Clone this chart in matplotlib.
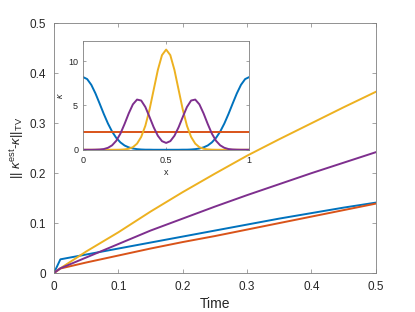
import numpy as np
import matplotlib
matplotlib.use("Agg")
import matplotlib.pyplot as plt

# main plot: error vs time
time = [0, 0.01, 0.05, 0.1, 0.15, 0.2, 0.25, 0.3, 0.35, 0.4, 0.45, 0.5]
err_blue = [0, 0.0274, 0.037, 0.049, 0.061, 0.073, 0.085, 0.097, 0.109, 0.120, 0.131, 0.141]
err_orange = [0, 0.009, 0.021, 0.035, 0.049, 0.062, 0.074, 0.087, 0.100, 0.113, 0.126, 0.139]
err_yellow = [0, 0.0094, 0.043, 0.0815, 0.123, 0.162, 0.199, 0.235, 0.268, 0.300, 0.332, 0.363]
err_purple = [0, 0.0094, 0.031, 0.058, 0.085, 0.109, 0.133, 0.156, 0.178, 0.200, 0.221, 0.242]
main_ticks = [0, 0.1, 0.2, 0.3, 0.4, 0.5]
main_ticklabels = ["0", "0.1", "0.2", "0.3", "0.4", "0.5"]

# inset: kappa(x)
x = [0, 0.025, 0.05, 0.075, 0.1, 0.125, 0.15, 0.175, 0.2, 0.225, 0.25, 0.275, 0.3,
     0.325, 0.35, 0.375, 0.4, 0.425, 0.45, 0.475, 0.5, 0.525, 0.55, 0.575, 0.6,
     0.625, 0.65, 0.675, 0.7, 0.725, 0.75, 0.775, 0.8, 0.825, 0.85, 0.875, 0.9,
     0.925, 0.95, 0.975, 1.0]
kappa_blue = [8.20, 7.97, 7.32, 6.35, 5.21, 4.04, 2.96, 2.05, 1.34, 0.83, 0.48, 0.27, 0.14,
              0.07, 0.03, 0.01, 0.01, 0, 0, 0, 0, 0, 0, 0, 0.01,
              0.01, 0.03, 0.07, 0.14, 0.27, 0.48, 0.83, 1.34, 2.05, 2.96, 4.04, 5.21,
              6.35, 7.32, 7.97, 8.20]
kappa_yellow = [0, 0, 0, 0, 0, 0, 0, 0, 0, 0.01, 0.04, 0.11, 0.29,
                0.69, 1.45, 2.71, 4.53, 6.76, 8.99, 10.67, 11.30, 10.67, 8.99, 6.76, 4.53,
                2.71, 1.45, 0.69, 0.29, 0.11, 0.04, 0.01, 0, 0, 0, 0, 0,
                0, 0, 0, 0]
kappa_purple = [0, 0, 0, 0.01, 0.03, 0.08, 0.22, 0.50, 1.01, 1.82, 2.91, 4.10, 5.12,
                5.66, 5.55, 4.82, 3.70, 2.54, 1.58, 0.97, 0.77, 0.97, 1.58, 2.54, 3.70,
                4.82, 5.55, 5.66, 5.12, 4.10, 2.91, 1.82, 1.01, 0.50, 0.22, 0.08, 0.03,
                0.01, 0, 0, 0]
x_flat = [0, 1]
kappa_orange = [2.0, 2.0]

c_blue = "#0072BD"
c_orange = "#D95319"
c_yellow = "#EDB120"
c_purple = "#7E2F8E"
axcol = "#262626"


def style(ax, size, ticklen, xpad, ypad):
    for s in ax.spines.values():
        s.set_color("#808080")
        s.set_linewidth(0.6)
    ax.tick_params(direction="in", top=True, right=True, length=ticklen,
                   width=0.5, color="#808080", labelcolor=axcol, labelsize=size)
    ax.tick_params(axis="x", pad=xpad)
    ax.tick_params(axis="y", pad=ypad)


def main():
    plt.rcParams["font.family"] = ["Liberation Sans", "DejaVu Sans"]
    plt.rcParams["mathtext.fontset"] = "custom"
    plt.rcParams["mathtext.rm"] = "Liberation Sans"
    plt.rcParams["mathtext.it"] = "Liberation Sans:italic"

    fig = plt.figure(figsize=(4.15, 3.12), dpi=100)
    ax = fig.add_axes([0.130, 0.125, 0.7753, 0.7997])
    lw = 1.4
    ax.plot(time, err_blue, color=c_blue, lw=lw)
    ax.plot(time, err_orange, color=c_orange, lw=lw)
    ax.plot(time, err_yellow, color=c_yellow, lw=lw)
    ax.plot(time, err_purple, color=c_purple, lw=lw)
    ax.set_xlim(0, 0.5)
    ax.set_ylim(0, 0.5)
    ax.set_xticks(main_ticks)
    ax.set_xticklabels(main_ticklabels)
    ax.set_yticks(main_ticks)
    ax.set_yticklabels(main_ticklabels)
    style(ax, 8.5, 3, 6, 5.5)
    ax.set_xlabel("Time", fontsize=10, color=axcol, labelpad=3)
    ax.set_ylabel(r"|| $\kappa^{\mathrm{est}}$-$\kappa$||$_{\mathrm{TV}}$",
                  fontsize=9.5, color=axcol, labelpad=3)

    ins = fig.add_axes([0.200, 0.520, 0.4007, 0.3496])
    ins.plot(x, kappa_blue, color=c_blue, lw=lw)
    ins.plot(x_flat, kappa_orange, color=c_orange, lw=lw)
    ins.plot(x, kappa_yellow, color=c_yellow, lw=lw)
    ins.plot(x, kappa_purple, color=c_purple, lw=lw)
    ins.set_xlim(0, 1)
    ins.set_ylim(0, 12.3)
    ins.set_xticks([0, 0.5, 1])
    ins.set_xticklabels(["0", "0.5", "1"])
    ins.set_yticks([0, 5, 10])
    style(ins, 6.5, 2, 4.5, 3.5)
    ins.set_xlabel("x", fontsize=6.5, color=axcol, labelpad=2)
    ins.set_ylabel(r"$\kappa$", fontsize=6.5, color=axcol, labelpad=2)

    fig.savefig("out.png", dpi=100)


if __name__ == "__main__":
    main()
